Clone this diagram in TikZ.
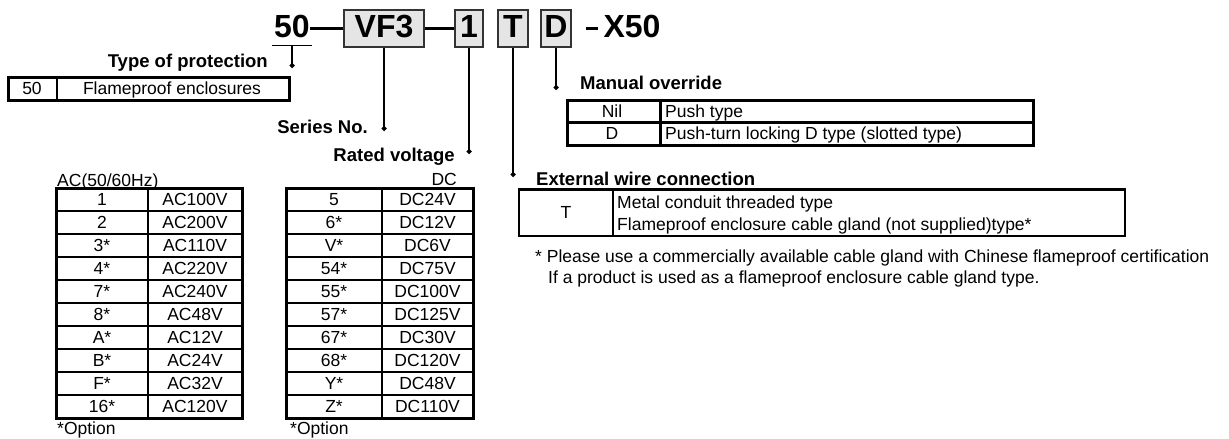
\documentclass[tikz,border=0pt]{standalone}
\usepackage{fontspec}
\setmainfont{Liberation Sans}
\usetikzlibrary{arrows.meta,positioning}

\tikzset{
  codetext/.style={inner sep=0pt,text height=22pt,text depth=4pt,
    font=\fontsize{32}{32}\selectfont\bfseries},
  codebox/.style={codetext,draw=black!80,fill=black!10,line width=2.2pt,
    minimum height=37pt},
  joint/.style={line width=3pt},
  leader/.style={line width=1.2pt,-{Circle[length=5pt]}},
  heading/.style={inner sep=0pt,font=\fontsize{18.5}{20}\selectfont\bfseries},
  cell/.style={inner sep=0pt,text height=12.6pt,text depth=0pt,
    font=\fontsize{17.5}{20}\selectfont},
  note/.style={inner sep=0pt,font=\fontsize{17.5}{20}\selectfont},
  frame/.style={line width=3pt},
  rule/.style={line width=1.7pt}
}

\begin{document}
\begin{tikzpicture}[x=1pt,y=-1pt]
  \useasboundingbox (0,0) rectangle (1229,439);

  % model code
  \node[codetext]                      (c50)  at (292,28.5)   {50};
  \node[codebox, minimum width=80pt]   (cVF3) at (384,28.5)   {VF3};
  \node[codebox, minimum width=28pt]   (c1)   at (469,28.5)   {1};
  \node[codebox, minimum width=30pt]   (cT)   at (513,28.5)   {T};
  \node[codebox, minimum width=30pt]   (cD)   at (556,28.5)   {D};
  \node[codetext]                      (cX50) at (632,28.5)   {X50};
  \draw[joint] (c50.east)  -- (cVF3.west);
  \draw[joint] (cVF3.east) -- (c1.west);
  \draw[joint] ([xshift=14pt]cD.east) -- ([xshift=-5pt]cX50.west);

  % leaders
  \coordinate (dotProt)   at (292,68);
  \coordinate (dotSeries) at (384,131);
  \coordinate (dotVolt)   at (469,154);
  \coordinate (dotWire)   at (513,177);
  \coordinate (dotMan)    at (556,90);
  \draw[line width=1.3pt] ([xshift=-2pt,yshift=-4pt]c50.south west)
    -- ([xshift=2pt,yshift=-4pt]c50.south east);
  \draw[leader] ([yshift=-4pt]c50.south) -- (dotProt);
  \draw[leader] (cVF3.south) -- (dotSeries);
  \draw[leader] (c1.south)   -- (dotVolt);
  \draw[leader] (cT.south)   -- (dotWire);
  \draw[leader] (cD.south)   -- (dotMan);

  \node[heading, anchor=base east] (protection) at (268,67)  {Type of protection};
  \node[heading, anchor=base east] (series)     at (368,133) {Series No.};
  \node[heading, anchor=base east] (voltage)    at (455,161) {Rated voltage};
  \node[heading, anchor=base west] (override)   at (580,89)  {Manual override};
  \node[heading, anchor=base west] (wire)       at (536,185) {External wire connection};

  % type of protection
  \draw[frame] (8,77) rectangle (289,100);
  \draw[rule] (57,77) -- (57,100);
  \node[cell] (prot code) at (32,88.5)  {50};
  \node[cell] (prot text) at (172,88.5) {Flameproof enclosures};

  % manual override
  \draw[frame] (567,100) rectangle (1033,145);
  \draw[frame] (567,122) -- (1033,122);
  \draw[frame] (660,100) -- (660,145);
  \node[cell] (man nil) at (612,111) {Nil};
  \node[cell] (man d)   at (612,133.5) {D};
  \node[cell, anchor=west] (man push) at (665,111)   {Push type};
  \node[cell, anchor=west] (man turn) at (665,133.5) {Push-turn locking D type (slotted type)};

  % external wire connection
  \draw[rule] (519,189) rectangle (1125,236);
  \draw[line width=3pt] (519,189) -- (1125,189);
  \draw[rule] (613,189) -- (613,236);
  \node[cell] (wire t) at (566,212.5) {T};
  \node[note, anchor=base west] (wire metal) at (617,208) {Metal conduit threaded type};
  \node[note, anchor=base west] (wire gland) at (617,230) {Flameproof enclosure cable gland (not supplied)type*};
  \node[note, anchor=base west] (foot1) at (535,262)
    {* Please use a commercially available cable gland with Chinese flameproof certification};
  \node[note, anchor=base west] (foot2) at (548,283)
    {If a product is used as a flameproof enclosure cable gland type.};

  % AC voltages
  \node[note, anchor=base west] (ac head) at (57,186) {AC(50/60Hz)};
  \draw[frame] (56,188) rectangle (242,418);
  \draw[rule] (148,188) -- (148,418);
  \foreach \i in {1,...,9}
    \draw[rule] (56,{188+23*\i}) -- (242,{188+23*\i});
  \foreach \code/\volt [count=\i] in {1/AC100V,2/AC200V,3*/AC110V,4*/AC220V,
      7*/AC240V,8*/AC48V,A*/AC12V,B*/AC24V,F*/AC32V,16*/AC120V} {
    \node[cell] (ac code \i) at (102,{176.5+23*\i}) {\code};
    \node[cell] (ac volt \i) at (195,{176.5+23*\i}) {\volt};
  }
  \node[note, anchor=base west] (ac opt) at (57,434) {*Option};

  % DC voltages
  \node[note, anchor=base east] (dc head) at (457,185) {DC};
  \draw[frame] (286,188) rectangle (473,418);
  \draw[rule] (382,188) -- (382,418);
  \foreach \i in {1,...,9}
    \draw[rule] (286,{188+23*\i}) -- (473,{188+23*\i});
  \foreach \code/\volt [count=\i] in {5/DC24V,6*/DC12V,V*/DC6V,54*/DC75V,
      55*/DC100V,57*/DC125V,67*/DC30V,68*/DC120V,Y*/DC48V,Z*/DC110V} {
    \node[cell] (dc code \i) at (334,{176.5+23*\i}) {\code};
    \node[cell] (dc volt \i) at (427.5,{176.5+23*\i}) {\volt};
  }
  \node[note, anchor=base west] (dc opt) at (290,434) {*Option};
\end{tikzpicture}
\end{document}
